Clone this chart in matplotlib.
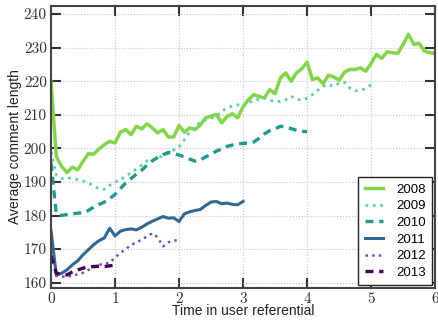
import numpy as np
import matplotlib
matplotlib.use("Agg")
from matplotlib import pyplot as plt

# average comment length per month since the user joined, one series per cohort
cohorts = ["2008", "2009", "2010", "2011", "2012", "2013"]

y2008 = [220, 197.6, 194.6, 192.8, 194.4, 193.6, 196.1, 198.4, 198.3, 199.8, 201.1, 202.1,
         201.6, 204.8, 205.6, 204.1, 206.6, 205.8, 207.3, 206.1, 204.6, 205.6, 203.4, 203.4,
         206.8, 204.8, 206.1, 205.6, 207.0, 209.1, 209.6, 210.1, 207.6, 209.5, 210.3, 209.1,
         212.4, 214.5, 216.0, 215.5, 215.0, 217.5, 216.3, 221.0, 222.5, 220.0, 222.5, 223.7,
         225.7, 220.5, 221.0, 219.3, 221.8, 221.3, 220.3, 222.7, 223.5, 223.5, 224.0, 223.0,
         225.3, 228.0, 226.8, 228.8, 228.5, 228.3, 231.0, 234.0, 231.0, 231.3, 229.0, 228.5,
         228.3]
y2009 = [199, 192.1, 191.0, 191.3, 191.0, 190.7, 190.3, 189.7, 188.8, 188.0, 187.8, 189.0,
         190.0, 190.5, 191.8, 192.7, 193.8, 195.0, 196.3, 196.5, 197.2, 197.8, 198.5, 199.5,
         200.5, 202.5, 205.0, 206.5, 207.8, 208.5, 209.0, 209.6, 211.0, 212.1, 212.6, 213.0,
         212.4, 213.5, 214.3, 214.7, 215.0, 214.3, 214.0, 214.0, 214.5, 215.5, 214.8, 214.3,
         215.0, 216.0, 217.3, 218.5, 219.0, 218.5, 219.5, 219.7, 218.0, 217.2, 217.3, 217.8,
         219.0]
y2010 = [195.6, 180.5, 180.0, 180.3, 180.5, 180.7, 180.8, 181.5, 182.5, 183.3, 184.0, 185.0,
         186.3, 188.0, 189.7, 191.0, 192.3, 193.5, 195.0, 196.3, 197.3, 198.1, 198.8, 198.5,
         198.0, 197.5, 196.8, 196.2, 196.5, 197.5, 198.2, 199.2, 199.8, 200.6, 201.0, 201.3,
         201.5, 201.6, 201.9, 203.0, 204.3, 205.3, 205.8, 206.6, 206.3, 205.9, 205.4, 205.1,
         205.0]
y2011 = [175.5, 162.3, 162.8, 163.8, 165.3, 166.5, 168.3, 169.8, 171.3, 172.5, 173.3, 176.2,
         173.9, 175.3, 175.8, 176.0, 175.7, 176.5, 177.5, 178.3, 179.0, 179.7, 179.2, 179.3,
         178.2, 180.5, 181.1, 181.5, 181.8, 183.0, 184.0, 184.2, 183.5, 183.7, 183.3, 183.2,
         184.2]
y2012 = [172, 162.0, 161.8, 161.8, 162.0, 162.5, 162.9, 163.8, 164.5, 165.3, 165.6, 165.9,
         167.5, 168.8, 170.0, 171.2, 172.0, 172.8, 173.8, 174.7, 173.5, 170.8, 172.0, 172.5,
         172.7]
y2013 = [168, 162.8, 162.5, 162.3, 163.2, 163.8, 164.3, 164.7, 164.8, 164.9, 164.8, 165.0,
         165.2]

xticks = [0, 1, 2, 3, 4, 5, 6]
yticks = [160, 170, 180, 190, 200, 210, 220, 230, 240]

series = [y2008, y2009, y2010, y2011, y2012, y2013]
colors = ["#84d44b", "#62cfa0", "#1f9a8a", "#33678f", "#6455bb", "#440154"]
styles = ["-", ":", (0, (2.4, 1.7)), "-", ":", (0, (2.4, 1.7))]
widths = [2.5, 2.0, 2.4, 2.2, 1.8, 2.4]

plt.rcParams["font.family"] = ["Liberation Sans", "DejaVu Sans"]

fig = plt.figure(figsize=(4.38, 3.2), dpi=100)
ax = fig.add_axes([0.1164, 0.1, 0.877, 0.881])

for name, ys, c, ls, lw in zip(cohorts, series, colors, styles, widths):
    xs = np.arange(len(ys)) / 12.0
    ax.plot(xs, ys, color=c, linestyle=ls, linewidth=lw, label=name)

ax.set_xlim(0, 6)
ax.set_ylim(158.4, 242.4)
# serif tick numbers like the original (Computer Modern)
ax.set_xticks(xticks, [str(t) for t in xticks], fontfamily="cmr10")
ax.set_yticks(yticks, [str(t) for t in yticks], fontfamily="cmr10")
ax.grid(True, linestyle=":", color="#c4c4c4", linewidth=0.8)
ax.set_axisbelow(True)

ax.tick_params(direction="in", length=7, width=1.5, color="#333333",
               top=True, right=True, labelsize=11, labelcolor="#333333")
ax.tick_params(axis="x", pad=3)
ax.tick_params(axis="y", pad=3)
for sp in ax.spines.values():
    sp.set_linewidth(1.5)
    sp.set_color("#444444")

ax.set_xlabel("Time in user referential", fontsize=10, color="#222222", labelpad=-1)
ax.set_ylabel("Average comment length", fontsize=10, color="#222222", labelpad=1)

leg = ax.legend(loc="lower right", fontsize=9.5, fancybox=False, framealpha=1,
                edgecolor="#222222", handlelength=1.4, borderaxespad=0.2,
                labelspacing=0.33, handletextpad=1.0, borderpad=0.5)
leg.get_frame().set_linewidth(1.0)

fig.savefig("out.png", dpi=100)
